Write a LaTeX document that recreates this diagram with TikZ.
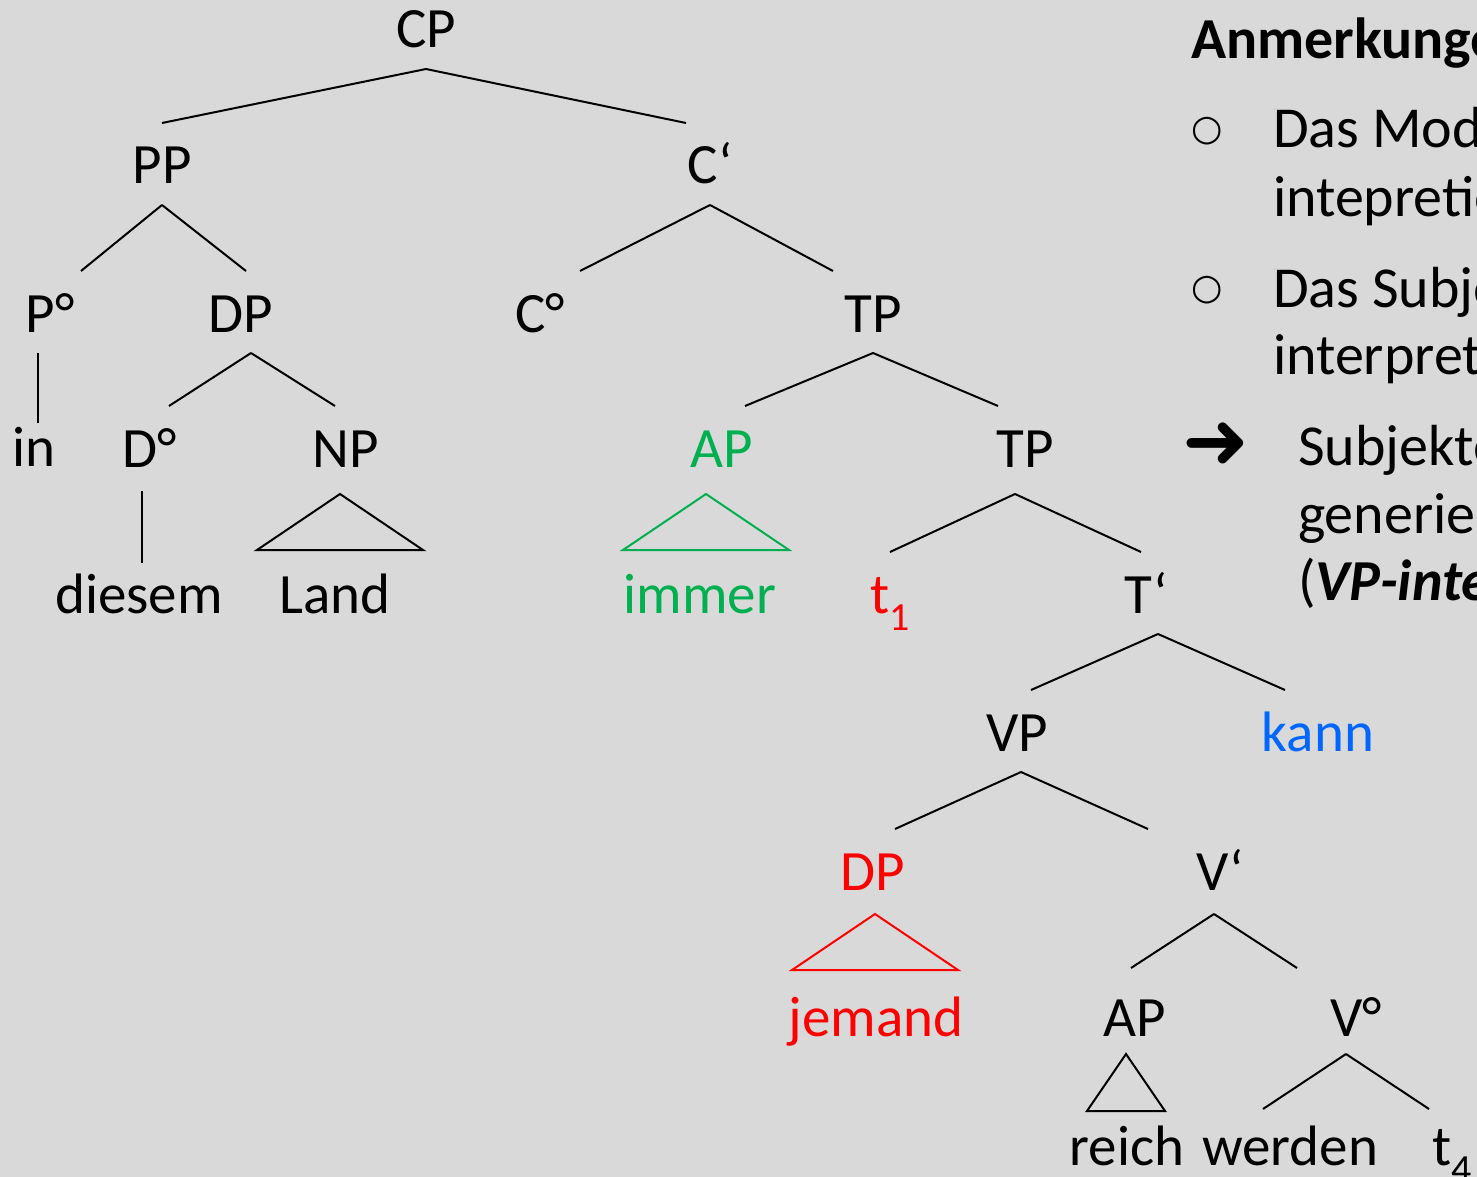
\documentclass[tikz,border=0pt]{standalone}
\usepackage{fontspec}
\setmainfont{Carlito}
\newfontfamily\symbfont{DejaVu Sans}
\definecolor{bgcol}{RGB}{217,217,217}
\definecolor{treegreen}{RGB}{0,176,80}
\definecolor{treered}{RGB}{255,0,0}
\definecolor{treeblue}{RGB}{0,102,255}
\tikzset{cat/.style={anchor=base, inner sep=0pt, text height=60pt, text depth=20pt, font=\fontsize{57}{68}\selectfont},
  note/.style={anchor=base west, inner sep=0pt, font=\fontsize{58}{70}\selectfont},
  bulletmark/.style={inner sep=0pt, font={\symbfont\fontsize{36}{40}\selectfont}}}

\begin{document}
\begin{tikzpicture}[x=1pt, y=-1pt, line width=2pt]
  \fill [bgcol] (0,0) rectangle (1477,1177);
  \useasboundingbox (0,0) rectangle (1477,1177);
  \clip (0,0) rectangle (1477,1177);
  % tree
  \node [cat] (cp) at (426,48) {CP};
  \node [cat] (pp) at (162,184) {PP};
  \node [cat] (cbar) at (710,184) {C‘};
  \node [cat] (pdeg) at (50,332) {P°};
  \node [cat] (dpa) at (241,332) {DP};
  \node [cat] (cdeg) at (540,332) {C°};
  \node [cat] (tpa) at (873,332) {TP};
  \node [cat] (in) at (34,466) {in};
  \node [cat] (ddeg) at (150,467) {D°};
  \node [cat] (np) at (346,467) {NP};
  \node [cat, treegreen] (apa) at (722,467) {AP};
  \node [cat] (tpb) at (1025,467) {TP};
  \node [cat] (diesem) at (139,613) {diesem};
  \node [cat] (land) at (335,613) {Land};
  \node [cat, treegreen] (immer) at (700,613) {immer};
  \node [cat, treered] (ta) at (890,613) {t\textsubscript{1}};
  \node [cat] (tbar) at (1146,613) {T‘};
  \node [cat] (vp) at (1017,751) {VP};
  \node [cat, treeblue] (kann) at (1318,751) {kann};
  \node [cat, treered] (dpb) at (873,890) {DP};
  \node [cat] (vbar) at (1220,890) {V‘};
  \node [cat, treered] (jemand) at (876,1036) {jemand};
  \node [cat] (apb) at (1135,1036) {AP};
  \node [cat] (vdeg) at (1356,1036) {V°};
  \node [cat] (reich) at (1127,1165) {reich};
  \node [cat] (werden) at (1290,1165) {werden};
  \node [cat] (tb) at (1452,1165) {t\textsubscript{4}};
  % branches
  \draw (cp.south) -- (pp.north);
  \draw (cp.south) -- ([xshift=-24pt]cbar.north);
  \draw (pp.south) -- ([xshift=31pt]pdeg.north);
  \draw (pp.south) -- ([xshift=5pt]dpa.north);
  \draw (cbar.south) -- ([xshift=40pt]cdeg.north);
  \draw (cbar.south) -- ([xshift=-40pt]tpa.north);
  \draw ([xshift=-12pt]pdeg.south) -- ([xshift=4pt,yshift=-18pt]in.north);
  \draw ([xshift=10pt]dpa.south) -- ([xshift=19pt]ddeg.north);
  \draw ([xshift=10pt]dpa.south) -- ([xshift=-11pt]np.north);
  \draw (tpa.south) -- ([xshift=23pt]apa.north);
  \draw (tpa.south) -- ([xshift=-27pt]tpb.north);
  \draw ([xshift=-8pt,yshift=-3pt]ddeg.south) -- ([xshift=3pt,yshift=-11pt]diesem.north);
  \draw ([xshift=-6pt,yshift=-6pt]np.south) -- ++(-83,56) -- ++(166,0) -- cycle;
  \draw [treegreen] ([xshift=-16pt,yshift=-6pt]apa.south) -- ++(-83,56) -- ++(166,0) -- cycle;
  \draw ([xshift=-10pt,yshift=-6pt]tpb.south) -- (ta.north);
  \draw ([xshift=-10pt,yshift=-6pt]tpb.south) -- ([xshift=-5pt]tbar.north);
  \draw ([xshift=12pt]tbar.south) -- ([xshift=14pt]vp.north);
  \draw ([xshift=12pt]tbar.south) -- ([xshift=-33pt]kann.north);
  \draw ([xshift=4pt]vp.south) -- ([xshift=22pt]dpb.north);
  \draw ([xshift=4pt]vp.south) -- ([xshift=-72pt]vbar.north);
  \draw [treered] ([xshift=2pt,yshift=-3pt]dpb.south) -- ++(-83,56) -- ++(166,0) -- cycle;
  \draw ([xshift=-6pt,yshift=-3pt]vbar.south) -- ([xshift=-4pt,yshift=7pt]apb.north);
  \draw ([xshift=-6pt,yshift=-3pt]vbar.south) -- ([xshift=-59pt,yshift=7pt]vdeg.north);
  \draw ([xshift=-9pt,yshift=3pt]apb.south) -- ++(-39,57) -- ++(78,0) -- cycle;
  \draw ([xshift=-10pt,yshift=3pt]vdeg.south) -- ([xshift=-27pt,yshift=-5pt]werden.north);
  \draw ([xshift=-10pt,yshift=3pt]vdeg.south) -- ([xshift=-23pt,yshift=-5pt]tb.north);
  % notes
  \node [note, font={\fontsize{58}{70}\selectfont\bfseries}] (anm) at (1190,59) {Anmerkungen:};
  \node [bulletmark] (ba) at (1207,131) {○};
  \node [note] (la) at (1272,148) {Das Modalverb};
  \node [note] (lb) at (1272,217) {intepretiert};
  \node [bulletmark] (bb) at (1207,290) {○};
  \node [note] (lc) at (1272,307) {Das Subjekt};
  \node [note] (ld) at (1272,374) {interpretiert};
  \node [font={\symbfont\fontsize{80}{84}\selectfont}, inner sep=0pt] (arr) at (1216,446) {➜};
  \node [note] (le) at (1297,465) {Subjekte};
  \node [note] (lf) at (1297,533) {generiert};
  \node [note] (lg) at (1297,600) {(\textbf{\textit{VP-intern}}};
\end{tikzpicture}
\end{document}
